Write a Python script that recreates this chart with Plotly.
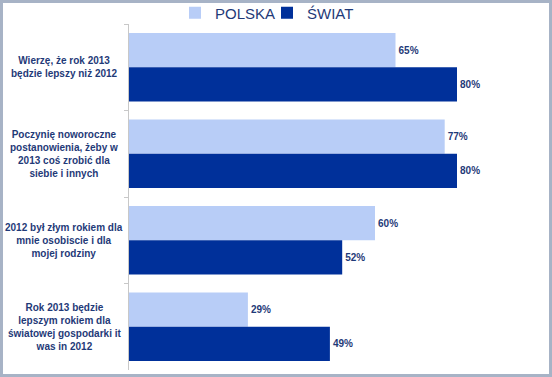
import plotly.graph_objects as go

categories = [
    "Wierzę, że rok 2013<br>będzie lepszy niż 2012",
    "Poczynię noworoczne<br>postanowienia, żeby w<br>2013 coś zrobić dla<br>siebie i innych",
    "2012 był złym rokiem dla<br>mnie osobiscie i dla<br>mojej rodziny",
    "Rok 2013 będzie<br>lepszym rokiem dla<br>światowej gospodarki it<br>was in 2012",
]
polska = [65, 77, 60, 29]
swiat = [80, 80, 52, 49]
series_names = ["POLSKA", "ŚWIAT"]

W, H = 552, 377
L, R, T, B = 129, 13, 24, 7
pw, ph = W - L - R, H - T - B

navy = "#1f3a78"
font_family = "Liberation Sans, Arial, sans-serif"

fig = go.Figure()
fig.add_trace(go.Bar(
    y=categories, x=polska, name=series_names[0], orientation="h",
    marker=dict(color="#b8cdf7", line=dict(width=0)),
    texttemplate="%{x}%", textposition="outside", cliponaxis=False,
    textfont=dict(family=font_family, size=10, color=navy, weight="bold"),
))
fig.add_trace(go.Bar(
    y=categories, x=swiat, name=series_names[1], orientation="h",
    marker=dict(color="#00309a", line=dict(width=0)),
    texttemplate="%{x}%", textposition="outside", cliponaxis=False,
    textfont=dict(family=font_family, size=10, color=navy, weight="bold"),
))

annotations = []
for c in categories:
    annotations.append(dict(
        x=(64 - L) / pw, xref="paper", y=c, yref="y",
        text="<b>" + c + "</b>", showarrow=False, align="center",
        xanchor="center", yanchor="middle",
        font=dict(family=font_family, size=10, color=navy),
    ))

fig.update_layout(
    width=W, height=H,
    margin=dict(l=L, r=R, t=T, b=B, autoexpand=False),
    paper_bgcolor="white", plot_bgcolor="white",
    barmode="group", bargap=0.21, bargroupgap=0,
    showlegend=True,
    legend=dict(orientation="h", x=(175 - L) / pw, xanchor="left",
                y=1 + (T - 13) / ph, yanchor="middle",
                font=dict(family=font_family, size=15, color=navy),
                itemwidth=30, entrywidth=47, entrywidthmode="pixels",
                bgcolor="rgba(0,0,0,0)", tracegroupgap=0),
    xaxis=dict(range=[0, 100], showgrid=False, showticklabels=False,
               zeroline=False, showline=False, ticks="", automargin=False),
    yaxis=dict(autorange="reversed", showticklabels=False, showgrid=False,
               showline=True, linecolor="#c8c8c8", linewidth=1,
               ticks="outside", tickson="boundaries", ticklen=4,
               tickcolor="#c8c8c8", automargin=False),
    annotations=annotations,
    shapes=[dict(type="rect", xref="paper", yref="paper",
                 x0=(1.5 - L) / pw, x1=1 + (R - 1.5) / pw,
                 y0=-(B - 1.5) / ph, y1=1 + (T - 1.5) / ph,
                 line=dict(color="#a7b3c6", width=3), layer="above")],
)

fig.write_html("out.html", config={"displayModeBar": False},
               post_script="document.body.style.margin='0';document.body.style.overflow='hidden';")
